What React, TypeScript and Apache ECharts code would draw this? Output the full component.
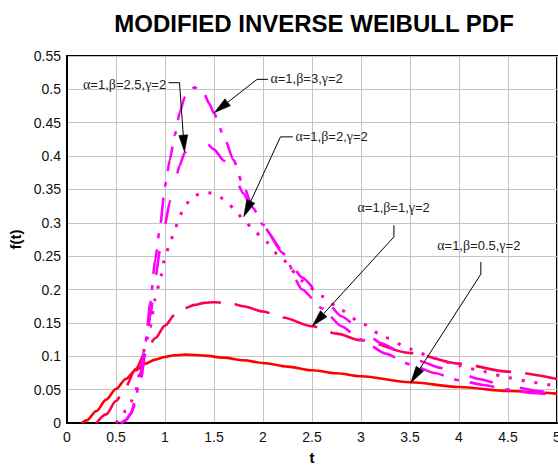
import React, { useEffect, useRef } from "react";
import * as echarts from "echarts";

// ---------- data ----------
const tBeta05 = [0.15, 0.2, 0.3, 0.4, 0.5, 0.6, 0.7, 0.8, 0.9, 1.0, 1.1, 1.2, 1.3, 1.4, 1.6, 1.8, 2.0, 2.25, 2.5, 2.75, 3.0, 3.5, 4.0, 4.5, 5.0];
const fBeta05 = [0, 0.004, 0.018, 0.035, 0.051, 0.066, 0.079, 0.089, 0.095, 0.099, 0.1015, 0.1025, 0.102, 0.101, 0.098, 0.094, 0.09, 0.0845, 0.079, 0.0745, 0.07, 0.061, 0.054, 0.048, 0.044];

const tBeta1 = [0.3, 0.4, 0.5, 0.6, 0.7, 0.8, 0.9, 1.0, 1.1, 1.2, 1.3, 1.4, 1.5, 1.6, 1.7, 1.8, 2.0, 2.2, 2.5, 2.75, 3.0, 3.5, 4.0, 4.5, 5.0];
const fBeta1 = [0, 0.013, 0.033, 0.055, 0.081, 0.105, 0.127, 0.146, 0.162, 0.172, 0.177, 0.18, 0.181, 0.18, 0.178, 0.175, 0.167, 0.158, 0.145, 0.134, 0.124, 0.105, 0.089, 0.077, 0.066];

const tBeta2 = [0.5, 0.55, 0.6, 0.65, 0.7, 0.75, 0.8, 0.85, 0.9, 0.95, 1.0, 1.05, 1.1, 1.15, 1.2, 1.3, 1.4, 1.5, 1.6, 1.7, 1.8, 1.9, 2.0, 2.2, 2.4, 2.6, 2.8, 3.0, 3.25, 3.5, 3.75, 4.0, 4.25, 4.5, 4.75, 5.0];
const fBeta2 = [0, 0.008, 0.019, 0.031, 0.048, 0.079, 0.118, 0.144, 0.186, 0.215, 0.249, 0.269, 0.29, 0.31, 0.326, 0.341, 0.346, 0.344, 0.336, 0.322, 0.305, 0.29, 0.276, 0.245, 0.213, 0.19, 0.169, 0.15, 0.128, 0.111, 0.097, 0.086, 0.077, 0.068, 0.061, 0.055];

const tBeta25 = [0.55, 0.6, 0.65, 0.7, 0.75, 0.8, 0.85, 0.9, 0.95, 1.0, 1.05, 1.1, 1.15, 1.2, 1.3, 1.4, 1.5, 1.6, 1.7, 1.8, 1.9, 2.0, 2.2, 2.4, 2.6, 2.8, 3.0, 3.2, 3.4, 3.6, 3.8, 4.0, 4.2, 4.4, 4.6, 4.8, 5.0];
const fBeta25 = [0, 0.004, 0.013, 0.03, 0.06, 0.105, 0.16, 0.215, 0.26, 0.298, 0.332, 0.362, 0.386, 0.405, 0.42, 0.423, 0.41, 0.393, 0.372, 0.344, 0.318, 0.295, 0.258, 0.218, 0.19, 0.16, 0.14, 0.12, 0.107, 0.093, 0.083, 0.075, 0.066, 0.059, 0.053, 0.048, 0.045];

const tBeta3 = [0.55, 0.6, 0.65, 0.7, 0.75, 0.8, 0.85, 0.9, 0.95, 1.0, 1.05, 1.1, 1.15, 1.2, 1.25, 1.3, 1.35, 1.4, 1.45, 1.5, 1.6, 1.7, 1.8, 1.9, 2.0, 2.2, 2.4, 2.6, 2.8, 3.0, 3.25, 3.5, 3.75, 4.0, 4.25, 4.5, 4.75, 5.0];
const fBeta3 = [0, 0.004, 0.014, 0.035, 0.075, 0.12, 0.18, 0.245, 0.295, 0.355, 0.395, 0.432, 0.465, 0.488, 0.498, 0.503, 0.5, 0.493, 0.479, 0.464, 0.43, 0.394, 0.355, 0.322, 0.297, 0.255, 0.2, 0.172, 0.145, 0.125, 0.104, 0.088, 0.075, 0.064, 0.057, 0.05, 0.045, 0.042];

const seriesLabels = [
  "α=1,β=0.5,γ=2",
  "α=1,β=1,γ=2",
  "α=1,β=2,γ=2",
  "α=1,β=2.5,γ=2",
  "α=1,β=3,γ=2",
];

const zip = (t: number[], f: number[]) => t.map((v, i) => [v, f[i]]);

// annotation geometry in data coordinates: text anchor, leader start, elbow, arrow tip
const annotations = [
  { idx: 3, text: [1.012, 0.508], align: "right", start: [1.036, 0.51], elbow: [1.148, 0.51], tip: [1.199, 0.406] },
  { idx: 4, text: [2.076, 0.5167], align: "left", start: [2.05, 0.515], elbow: [1.94, 0.515], tip: [1.503, 0.465] },
  { idx: 2, text: [2.331, 0.4298], align: "left", start: [2.305, 0.4288], elbow: [2.178, 0.4288], tip: [1.803, 0.309] },
  { idx: 1, text: [3.333, 0.3226], align: "center", start: [3.336, 0.2964], elbow: [3.336, 0.2789], tip: [2.502, 0.145] },
  { idx: 0, text: [4.202, 0.2664], align: "center", start: [4.223, 0.2414], elbow: [4.223, 0.223], tip: [3.507, 0.06] },
];

const toRich = (s: string) => s.replace(/([αβγ])/g, "{g|$1}");

export default function App() {
  const ref = useRef<HTMLDivElement>(null);
  useEffect(() => {
    const chart = echarts.init(ref.current!, null, { renderer: "svg" });
    const sans = "'Liberation Sans', Arial, sans-serif";
    chart.setOption({
      animation: false,
      backgroundColor: "#ffffff",
      title: {
        text: "MODIFIED INVERSE WEIBULL PDF",
        left: 314,
        top: 11,
        textAlign: "center",
        padding: 0,
        textStyle: { fontFamily: sans, fontWeight: "bold", fontSize: 24, color: "#000" },
      },
      grid: {
        left: 67,
        right: 1,
        top: 56,
        bottom: 44,
        show: true,
        borderColor: "#000",
        borderWidth: 2,
        containLabel: false,
        outerBoundsMode: "none",
      },
      xAxis: {
        type: "value",
        min: 0,
        max: 5,
        interval: 0.5,
        name: "t",
        nameLocation: "middle",
        nameGap: 27,
        nameTextStyle: { fontFamily: sans, fontWeight: "bold", fontSize: 15, color: "#000" },
        axisLine: { show: true, lineStyle: { color: "#000", width: 2 } },
        axisTick: { show: false },
        axisLabel: { fontFamily: sans, fontSize: 14, color: "#111", margin: 7 },
        splitLine: { show: true, lineStyle: { color: "#c4c4c4", width: 1 } },
      },
      yAxis: {
        type: "value",
        min: 0,
        max: 0.55,
        interval: 0.05,
        name: "f(t)",
        nameLocation: "middle",
        nameGap: 42,
        nameRotate: 90,
        nameTextStyle: { fontFamily: sans, fontWeight: "bold", fontSize: 15, color: "#000" },
        axisLine: { show: true, lineStyle: { color: "#000", width: 2 } },
        axisTick: { show: false },
        axisLabel: { fontFamily: sans, fontSize: 14, color: "#111", margin: 6 },
        splitLine: { show: true, lineStyle: { color: "#c4c4c4", width: 1 } },
      },
      series: [
        {
          name: seriesLabels[0], type: "line", data: zip(tBeta05, fBeta05), showSymbol: false, smooth: 0.3, smoothMonotone: "x",
          lineStyle: { color: "#ff0000", width: 2.6, type: "solid" },
        },
        {
          name: seriesLabels[1], type: "line", data: zip(tBeta1, fBeta1), showSymbol: false, smooth: 0.3, smoothMonotone: "x",
          lineStyle: { color: "#ff0050", width: 2.6, type: [36, 14], cap: "butt" },
        },
        {
          name: seriesLabels[2], type: "line", data: zip(tBeta2, fBeta2), showSymbol: false, smooth: 0.2, smoothMonotone: "x",
          lineStyle: { color: "#ff00b4", width: 3, type: [3, 10], cap: "butt" },
        },
        {
          name: seriesLabels[3], type: "line", data: zip(tBeta25, fBeta25), showSymbol: false, smooth: 0.2, smoothMonotone: "x",
          lineStyle: { color: "#ff00ff", width: 2.6, type: [24, 28], cap: "butt" },
        },
        {
          name: seriesLabels[4], type: "line", data: zip(tBeta3, fBeta3), showSymbol: false, smooth: 0.2, smoothMonotone: "x",
          lineStyle: { color: "#ff00ff", width: 2.6, type: [25, 11, 5, 11], cap: "butt" },
        },
      ],
    });

    const px = (p: number[]) => chart.convertToPixel({ gridIndex: 0 }, p) as number[];
    const graphics: any[] = [];
    annotations.forEach((a) => {
      const tp = px(a.text);
      const s = px(a.start);
      const e = px(a.elbow);
      const tip = px(a.tip);
      const dx = tip[0] - e[0];
      const dy = tip[1] - e[1];
      const len = Math.sqrt(dx * dx + dy * dy);
      const ux = dx / len;
      const uy = dy / len;
      const headLen = 17;
      const halfW = 4.5;
      const bx = tip[0] - ux * headLen;
      const by = tip[1] - uy * headLen;
      graphics.push({
        type: "polyline",
        z: 100,
        shape: { points: [s, e, [bx, by]] },
        style: { stroke: "#000", lineWidth: 1, fill: null },
      });
      graphics.push({
        type: "polygon",
        z: 100,
        shape: { points: [tip, [bx - uy * halfW, by + ux * halfW], [bx + uy * halfW, by - ux * halfW]] },
        style: { fill: "#000", stroke: "#000", lineWidth: 0.5 },
      });
      graphics.push({
        type: "text",
        z: 100,
        x: tp[0],
        y: tp[1],
        style: {
          text: toRich(seriesLabels[a.idx]),
          fontFamily: sans,
          fontSize: 13,
          fill: "#222",
          align: a.align,
          verticalAlign: "middle",
          textAlign: a.align,
          textVerticalAlign: "middle",
          rich: { g: { fontFamily: "'Liberation Serif', 'Times New Roman', serif", fontSize: 14, fill: "#222" } },
        },
      });
    });
    chart.setOption({ graphic: graphics });

    return () => chart.dispose();
  }, []);
  return <div ref={ref} style={{ position: "fixed", left: 0, top: 0, width: 558, height: 467 }} />;
}
